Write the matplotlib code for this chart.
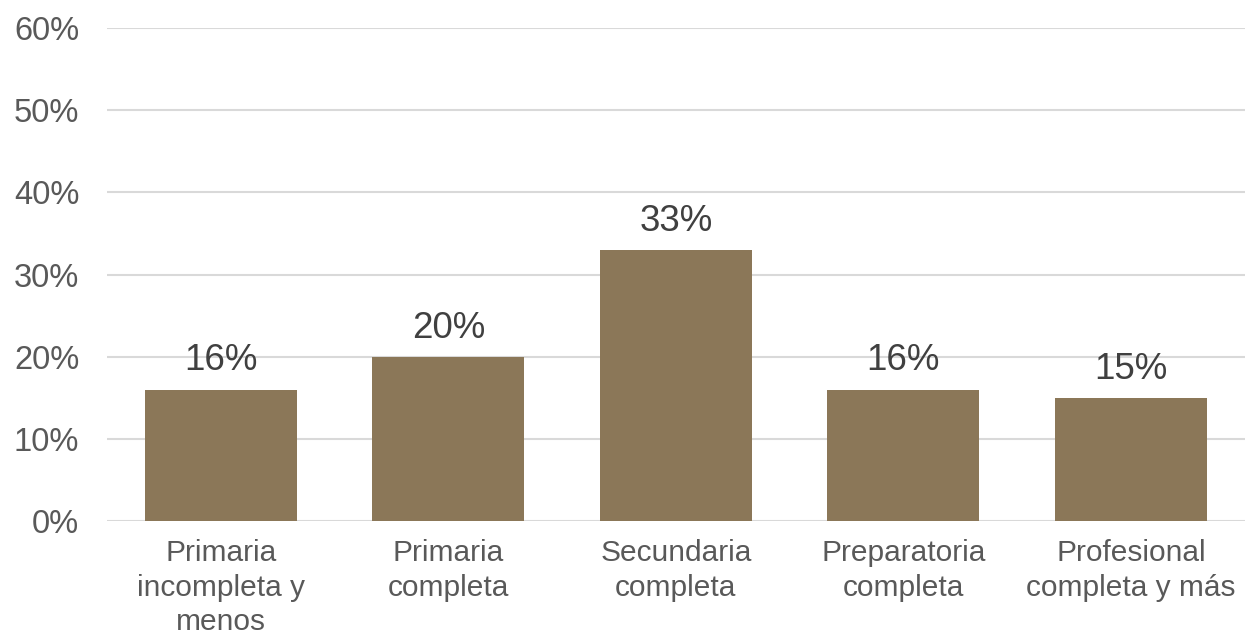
import matplotlib.pyplot as plt
import numpy as np

categories = ['Primaria\nincompleta y\nmenos', 'Primaria\ncompleta', 'Secundaria\ncompleta',
              'Preparatoria\ncompleta', 'Profesional\ncompleta y más']
values = [16, 20, 33, 16, 15]
yticks = [0, 10, 20, 30, 40, 50, 60]


def main():
    plt.rcParams['font.family'] = ['Liberation Sans', 'DejaVu Sans']
    fig = plt.figure(figsize=(12.46, 6.38), dpi=100)
    ax = fig.add_axes([0.0859, 0.1834, 0.913, 0.7726])

    x = np.arange(len(categories))
    bars = ax.bar(x, values, width=0.667, color='#8B7758', zorder=3)

    for b, v in zip(bars, values):
        ax.annotate(f'{v}%', (b.get_x() + b.get_width() / 2, v), xytext=(0, 8),
                    textcoords='offset points', ha='center', va='bottom',
                    fontsize=26.5, color='#404040')

    ax.set_ylim(0, 60)
    ax.set_xlim(-0.5, len(categories) - 0.5)
    ax.set_yticks(yticks)
    ax.set_yticklabels([f'{t}%' for t in yticks], fontsize=23.5, color='#595959')
    ax.set_xticks(x)
    ax.set_xticklabels(categories, fontsize=21.5, color='#595959', linespacing=1.3)
    ax.tick_params(axis='both', length=0)
    ax.tick_params(axis='y', pad=20)
    ax.tick_params(axis='x', pad=13)
    ax.grid(axis='y', color='#D9D9D9', linewidth=1.5, zorder=0)
    for s in ax.spines.values():
        s.set_visible(False)

    fig.savefig('out.png', dpi=100, facecolor='white')


if __name__ == '__main__':
    main()
